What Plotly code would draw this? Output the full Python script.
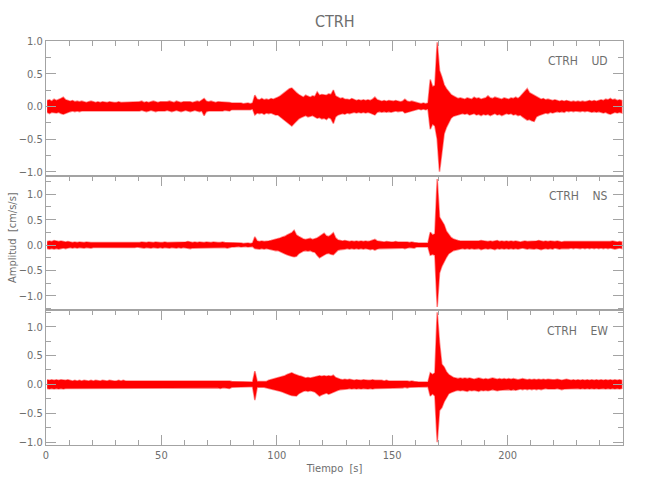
import plotly.graph_objects as go

# ---- data: per-second peak amplitudes (upper / lower envelope) ----
TIME_S = list(range(250))  # start of each 1-s window

UD_UP = [
    0.09,0.10,0.08,0.11,0.09,0.10,0.12,0.14,0.10,0.09,
    0.08,0.09,0.07,0.08,0.07,0.08,0.07,0.06,0.07,0.08,
    0.07,0.06,0.07,0.06,0.07,0.06,0.06,0.07,0.06,0.06,
    0.06,0.07,0.06,0.06,0.07,0.06,0.07,0.06,0.07,0.06,
    0.07,0.08,0.06,0.07,0.06,0.07,0.08,0.07,0.06,0.07,
    0.07,0.06,0.07,0.08,0.07,0.06,0.08,0.07,0.06,0.07,
    0.07,0.08,0.07,0.06,0.07,0.08,0.07,0.09,0.12,0.08,
    0.07,0.08,0.07,0.06,0.07,0.07,0.06,0.07,0.06,0.06,
    0.05,0.05,0.06,0.05,0.05,0.04,0.05,0.05,0.04,0.05,
    0.17,0.11,0.10,0.12,0.10,0.11,0.10,0.12,0.11,0.12,
    0.14,0.16,0.19,0.22,0.25,0.27,0.28,0.24,0.21,0.18,
    0.16,0.14,0.17,0.15,0.14,0.16,0.15,0.22,0.17,0.18,
    0.18,0.17,0.19,0.18,0.25,0.16,0.14,0.12,0.13,0.11,
    0.11,0.10,0.12,0.10,0.09,0.10,0.09,0.10,0.09,0.10,
    0.09,0.11,0.14,0.10,0.09,0.08,0.09,0.08,0.09,0.08,
    0.08,0.09,0.08,0.07,0.08,0.11,0.08,0.07,0.08,0.07,
    0.05,0.05,0.04,0.05,0.04,0.05,0.41,0.30,0.32,0.98,
    0.55,0.45,0.33,0.27,0.22,0.18,0.16,0.14,0.12,0.13,
    0.12,0.11,0.13,0.12,0.11,0.14,0.12,0.13,0.11,0.12,
    0.13,0.16,0.13,0.12,0.14,0.13,0.12,0.11,0.13,0.12,
    0.11,0.13,0.12,0.14,0.12,0.15,0.19,0.23,0.27,0.21,
    0.19,0.16,0.14,0.13,0.11,0.12,0.10,0.11,0.10,0.09,
    0.10,0.09,0.08,0.09,0.08,0.09,0.08,0.07,0.08,0.07,
    0.08,0.07,0.08,0.07,0.08,0.09,0.08,0.09,0.08,0.09,
    0.10,0.09,0.11,0.10,0.12,0.10,0.11,0.09,0.10,0.09,
]
UD_LO = [
    -0.09,-0.11,-0.09,-0.10,-0.10,-0.09,-0.11,-0.12,-0.10,-0.09,
    -0.08,-0.07,-0.08,-0.07,-0.08,-0.07,-0.06,-0.07,-0.06,-0.07,
    -0.06,-0.07,-0.06,-0.06,-0.07,-0.06,-0.07,-0.06,-0.06,-0.07,
    -0.06,-0.06,-0.07,-0.06,-0.06,-0.07,-0.06,-0.07,-0.06,-0.07,
    -0.07,-0.06,-0.07,-0.08,-0.07,-0.06,-0.07,-0.08,-0.07,-0.06,
    -0.07,-0.07,-0.06,-0.07,-0.08,-0.07,-0.06,-0.07,-0.08,-0.07,
    -0.06,-0.07,-0.08,-0.07,-0.06,-0.07,-0.08,-0.07,-0.14,-0.08,
    -0.07,-0.06,-0.07,-0.07,-0.06,-0.07,-0.07,-0.06,-0.06,-0.07,
    -0.05,-0.05,-0.04,-0.05,-0.05,-0.05,-0.04,-0.05,-0.05,-0.04,
    -0.13,-0.10,-0.11,-0.10,-0.12,-0.10,-0.11,-0.10,-0.12,-0.13,
    -0.13,-0.16,-0.18,-0.21,-0.25,-0.27,-0.30,-0.26,-0.22,-0.19,
    -0.17,-0.15,-0.14,-0.16,-0.15,-0.14,-0.16,-0.18,-0.17,-0.19,
    -0.18,-0.20,-0.17,-0.19,-0.26,-0.16,-0.13,-0.12,-0.11,-0.12,
    -0.10,-0.11,-0.10,-0.09,-0.10,-0.09,-0.10,-0.09,-0.10,-0.09,
    -0.10,-0.11,-0.13,-0.09,-0.08,-0.09,-0.08,-0.09,-0.08,-0.09,
    -0.08,-0.07,-0.08,-0.08,-0.07,-0.10,-0.08,-0.07,-0.07,-0.06,
    -0.05,-0.04,-0.05,-0.04,-0.05,-0.04,-0.35,-0.27,-0.30,-0.50,
    -1.00,-0.70,-0.42,-0.32,-0.24,-0.18,-0.15,-0.14,-0.13,-0.12,
    -0.11,-0.12,-0.11,-0.13,-0.12,-0.11,-0.13,-0.12,-0.14,-0.12,
    -0.13,-0.12,-0.14,-0.12,-0.11,-0.13,-0.12,-0.14,-0.12,-0.11,
    -0.12,-0.11,-0.13,-0.12,-0.14,-0.13,-0.16,-0.19,-0.21,-0.20,
    -0.22,-0.23,-0.16,-0.14,-0.12,-0.11,-0.10,-0.11,-0.09,-0.10,
    -0.09,-0.08,-0.09,-0.08,-0.09,-0.07,-0.08,-0.07,-0.08,-0.07,
    -0.07,-0.08,-0.07,-0.08,-0.07,-0.08,-0.09,-0.08,-0.09,-0.08,
    -0.09,-0.10,-0.09,-0.11,-0.12,-0.10,-0.09,-0.10,-0.09,-0.10,
]
NS_UP = [
    0.07,0.08,0.07,0.09,0.08,0.07,0.08,0.07,0.06,0.07,
    0.06,0.05,0.06,0.05,0.06,0.05,0.05,0.06,0.05,0.05,
    0.05,0.05,0.04,0.05,0.05,0.04,0.05,0.05,0.04,0.05,
    0.05,0.04,0.05,0.05,0.04,0.05,0.05,0.04,0.05,0.05,
    0.05,0.06,0.05,0.05,0.06,0.05,0.05,0.06,0.05,0.05,
    0.05,0.06,0.05,0.05,0.06,0.05,0.06,0.05,0.05,0.06,
    0.06,0.07,0.06,0.05,0.06,0.05,0.06,0.05,0.05,0.06,
    0.05,0.05,0.06,0.05,0.05,0.05,0.06,0.05,0.05,0.05,
    0.04,0.04,0.04,0.04,0.04,0.03,0.04,0.04,0.03,0.04,
    0.16,0.08,0.07,0.08,0.07,0.07,0.08,0.09,0.10,0.11,
    0.12,0.14,0.16,0.17,0.20,0.22,0.24,0.29,0.20,0.17,
    0.14,0.12,0.11,0.12,0.13,0.11,0.12,0.14,0.17,0.20,
    0.23,0.18,0.17,0.20,0.24,0.14,0.10,0.09,0.08,0.09,
    0.08,0.07,0.08,0.07,0.08,0.07,0.08,0.07,0.08,0.07,
    0.08,0.09,0.11,0.08,0.07,0.07,0.06,0.07,0.06,0.06,
    0.06,0.07,0.06,0.06,0.07,0.06,0.06,0.05,0.06,0.05,
    0.04,0.04,0.04,0.04,0.04,0.04,0.25,0.20,0.22,1.30,
    0.55,0.47,0.40,0.27,0.20,0.15,0.12,0.10,0.09,0.08,
    0.08,0.07,0.08,0.07,0.08,0.07,0.07,0.08,0.09,0.08,
    0.08,0.07,0.08,0.07,0.08,0.09,0.07,0.08,0.07,0.08,
    0.07,0.08,0.07,0.08,0.07,0.06,0.07,0.08,0.07,0.07,
    0.08,0.07,0.08,0.09,0.08,0.07,0.08,0.07,0.08,0.07,
    0.07,0.08,0.07,0.06,0.07,0.07,0.06,0.07,0.06,0.07,
    0.07,0.06,0.07,0.06,0.07,0.06,0.07,0.06,0.07,0.06,
    0.07,0.06,0.07,0.06,0.07,0.08,0.07,0.06,0.07,0.06,
]
NS_LO = [
    -0.07,-0.08,-0.07,-0.08,-0.07,-0.08,-0.07,-0.06,-0.07,-0.06,
    -0.05,-0.06,-0.05,-0.06,-0.05,-0.05,-0.06,-0.05,-0.05,-0.06,
    -0.05,-0.04,-0.05,-0.05,-0.04,-0.05,-0.05,-0.04,-0.05,-0.05,
    -0.04,-0.05,-0.05,-0.04,-0.05,-0.05,-0.04,-0.05,-0.05,-0.04,
    -0.05,-0.05,-0.06,-0.05,-0.05,-0.06,-0.05,-0.05,-0.06,-0.05,
    -0.06,-0.05,-0.05,-0.06,-0.05,-0.05,-0.06,-0.05,-0.06,-0.05,
    -0.05,-0.06,-0.07,-0.06,-0.05,-0.06,-0.05,-0.06,-0.05,-0.05,
    -0.05,-0.06,-0.05,-0.05,-0.06,-0.05,-0.05,-0.05,-0.06,-0.05,
    -0.04,-0.04,-0.04,-0.03,-0.04,-0.04,-0.03,-0.04,-0.04,-0.03,
    -0.07,-0.07,-0.08,-0.07,-0.08,-0.07,-0.08,-0.09,-0.10,-0.11,
    -0.11,-0.13,-0.15,-0.17,-0.19,-0.21,-0.22,-0.23,-0.22,-0.17,
    -0.14,-0.12,-0.11,-0.12,-0.11,-0.13,-0.14,-0.20,-0.25,-0.22,
    -0.20,-0.17,-0.16,-0.18,-0.19,-0.14,-0.10,-0.09,-0.08,-0.08,
    -0.07,-0.08,-0.07,-0.08,-0.07,-0.08,-0.07,-0.08,-0.07,-0.08,
    -0.09,-0.08,-0.10,-0.08,-0.07,-0.06,-0.07,-0.06,-0.07,-0.06,
    -0.06,-0.06,-0.07,-0.06,-0.06,-0.07,-0.06,-0.05,-0.05,-0.06,
    -0.04,-0.04,-0.04,-0.04,-0.04,-0.04,-0.20,-0.18,-0.20,-1.22,
    -0.55,-0.42,-0.32,-0.24,-0.17,-0.14,-0.11,-0.10,-0.09,-0.08,
    -0.07,-0.08,-0.07,-0.08,-0.07,-0.08,-0.08,-0.07,-0.09,-0.08,
    -0.07,-0.08,-0.07,-0.08,-0.09,-0.07,-0.08,-0.07,-0.08,-0.07,
    -0.08,-0.07,-0.08,-0.07,-0.08,-0.07,-0.06,-0.07,-0.08,-0.07,
    -0.07,-0.08,-0.07,-0.08,-0.09,-0.08,-0.07,-0.08,-0.07,-0.08,
    -0.06,-0.07,-0.08,-0.07,-0.06,-0.07,-0.07,-0.06,-0.07,-0.06,
    -0.06,-0.07,-0.06,-0.07,-0.06,-0.07,-0.06,-0.07,-0.06,-0.07,
    -0.06,-0.07,-0.06,-0.07,-0.06,-0.07,-0.08,-0.07,-0.06,-0.07,
]
EW_UP = [
    0.08,0.07,0.08,0.07,0.08,0.07,0.08,0.07,0.07,0.08,
    0.07,0.06,0.07,0.06,0.07,0.06,0.07,0.06,0.06,0.07,
    0.06,0.07,0.06,0.06,0.07,0.06,0.06,0.07,0.06,0.06,
    0.06,0.07,0.06,0.07,0.06,0.06,0.07,0.06,0.07,0.06,
    0.07,0.06,0.07,0.06,0.07,0.06,0.06,0.07,0.06,0.07,
    0.07,0.06,0.07,0.06,0.06,0.07,0.06,0.07,0.06,0.06,
    0.06,0.07,0.06,0.06,0.07,0.06,0.06,0.07,0.06,0.06,
    0.06,0.07,0.06,0.06,0.07,0.06,0.06,0.06,0.07,0.06,
    0.05,0.05,0.04,0.05,0.04,0.04,0.04,0.04,0.04,0.04,
    0.23,0.05,0.05,0.05,0.05,0.05,0.07,0.08,0.09,0.10,
    0.11,0.12,0.14,0.15,0.17,0.18,0.20,0.18,0.16,0.15,
    0.14,0.12,0.11,0.12,0.11,0.12,0.13,0.14,0.15,0.14,
    0.15,0.14,0.15,0.14,0.16,0.12,0.10,0.09,0.08,0.09,
    0.08,0.09,0.08,0.07,0.08,0.07,0.07,0.08,0.07,0.07,
    0.07,0.08,0.07,0.07,0.08,0.07,0.06,0.07,0.06,0.06,
    0.06,0.07,0.06,0.06,0.07,0.06,0.06,0.05,0.06,0.05,
    0.04,0.04,0.04,0.04,0.04,0.04,0.20,0.17,0.20,1.25,
    0.72,0.35,0.30,0.22,0.17,0.14,0.12,0.11,0.10,0.11,
    0.10,0.11,0.10,0.11,0.10,0.09,0.10,0.11,0.10,0.09,
    0.10,0.09,0.10,0.11,0.10,0.09,0.10,0.09,0.10,0.09,
    0.10,0.09,0.10,0.09,0.08,0.09,0.10,0.09,0.08,0.09,
    0.08,0.09,0.08,0.09,0.08,0.09,0.08,0.09,0.08,0.08,
    0.08,0.09,0.08,0.07,0.08,0.09,0.08,0.07,0.08,0.07,
    0.08,0.07,0.08,0.07,0.08,0.07,0.08,0.07,0.08,0.07,
    0.08,0.07,0.08,0.07,0.08,0.07,0.08,0.07,0.08,0.07,
]
EW_LO = [
    -0.07,-0.08,-0.07,-0.08,-0.07,-0.08,-0.07,-0.08,-0.07,-0.07,
    -0.06,-0.07,-0.06,-0.07,-0.06,-0.07,-0.06,-0.07,-0.06,-0.06,
    -0.07,-0.06,-0.06,-0.07,-0.06,-0.06,-0.07,-0.06,-0.07,-0.06,
    -0.06,-0.06,-0.07,-0.06,-0.06,-0.07,-0.06,-0.06,-0.07,-0.06,
    -0.06,-0.07,-0.06,-0.07,-0.06,-0.07,-0.07,-0.06,-0.07,-0.06,
    -0.06,-0.07,-0.06,-0.07,-0.07,-0.06,-0.07,-0.06,-0.07,-0.07,
    -0.07,-0.06,-0.07,-0.06,-0.06,-0.07,-0.06,-0.07,-0.06,-0.07,
    -0.06,-0.06,-0.07,-0.06,-0.06,-0.07,-0.06,-0.06,-0.06,-0.07,
    -0.05,-0.05,-0.04,-0.04,-0.05,-0.04,-0.04,-0.04,-0.04,-0.04,
    -0.27,-0.05,-0.05,-0.05,-0.05,-0.05,-0.07,-0.08,-0.09,-0.10,
    -0.11,-0.12,-0.13,-0.15,-0.16,-0.18,-0.19,-0.20,-0.20,-0.16,
    -0.14,-0.12,-0.11,-0.12,-0.11,-0.12,-0.13,-0.17,-0.20,-0.18,
    -0.16,-0.15,-0.17,-0.16,-0.14,-0.12,-0.10,-0.09,-0.08,-0.08,
    -0.08,-0.07,-0.08,-0.07,-0.08,-0.07,-0.08,-0.07,-0.07,-0.08,
    -0.07,-0.08,-0.07,-0.07,-0.06,-0.07,-0.06,-0.07,-0.06,-0.06,
    -0.06,-0.06,-0.07,-0.06,-0.06,-0.05,-0.06,-0.05,-0.05,-0.05,
    -0.04,-0.04,-0.04,-0.04,-0.04,-0.04,-0.20,-0.16,-0.20,-1.00,
    -0.45,-0.40,-0.30,-0.22,-0.16,-0.14,-0.12,-0.11,-0.10,-0.11,
    -0.10,-0.11,-0.12,-0.10,-0.11,-0.10,-0.11,-0.12,-0.10,-0.11,
    -0.10,-0.11,-0.10,-0.09,-0.10,-0.11,-0.10,-0.09,-0.10,-0.09,
    -0.09,-0.10,-0.09,-0.10,-0.09,-0.08,-0.09,-0.08,-0.09,-0.08,
    -0.09,-0.08,-0.09,-0.08,-0.09,-0.08,-0.07,-0.08,-0.09,-0.08,
    -0.08,-0.07,-0.08,-0.09,-0.08,-0.07,-0.08,-0.07,-0.08,-0.07,
    -0.07,-0.08,-0.07,-0.08,-0.07,-0.08,-0.07,-0.08,-0.07,-0.08,
    -0.08,-0.07,-0.08,-0.07,-0.08,-0.07,-0.08,-0.07,-0.08,-0.07,
]

STATION = "CTRH"
COMPONENTS = ["UD", "NS", "EW"]
Y_RANGES = [[-1.065, 1.0], [-1.28, 1.36], [-1.05, 1.29]]
X_TICKS = [0, 50, 100, 150, 200]
Y_TICKS = [-1.0, -0.5, 0.0, 0.5, 1.0]
Y_TICKTEXT = ["\u22121.0", "\u22120.5", "0.0", "0.5", "1.0"]

SERIES = [(UD_UP, UD_LO), (NS_UP, NS_LO), (EW_UP, EW_LO)]

AX = "#a3a3a3"
TXT = "#6e6e6e"
FONT = "DejaVu Sans Condensed, Liberation Sans Narrow, Roboto, sans-serif"

fig = go.Figure()

domains = [[0.6658, 1.0], [0.3342, 0.6658], [0.0, 0.3342]]

for k, (up, lo) in enumerate(SERIES):
    idx = "" if k == 0 else str(k + 1)
    xc = [t + 0.5 for t in TIME_S]
    fig.add_trace(go.Scatter(
        x=xc + xc[::-1], y=list(up) + list(lo)[::-1],
        mode="lines", fill="toself", fillcolor="#ff0000",
        line=dict(color="rgba(255,0,0,0.45)", width=1.6),
        xaxis="x" + idx, yaxis="y" + idx, showlegend=False, hoverinfo="skip",
    ))

layout = dict(
    width=650, height=500,
    paper_bgcolor="white", plot_bgcolor="white",
    margin=dict(l=46, r=27, t=41, b=55, autoexpand=False),
    showlegend=False,
    font=dict(family=FONT, color=TXT, size=11),
)

for k in range(3):
    idx = "" if k == 0 else str(k + 1)
    last = (k == 2)
    xa = dict(
        domain=[0, 1], range=[0, 250], anchor="y" + idx,
        tickvals=X_TICKS, ticktext=[str(v) for v in X_TICKS],
        ticks="inside", ticklen=10, tickwidth=1, tickcolor=AX,
        showline=True, linecolor=AX, linewidth=1,
        showgrid=False, zeroline=False, automargin=False,
        minor=dict(dtick=10, tick0=0, ticks="inside", ticklen=5, tickcolor=AX, showgrid=False),
        tickfont=dict(size=11, color=TXT, family=FONT),
    )
    if last:
        xa.update(side="bottom", mirror="ticks", showticklabels=True,
                  title=dict(text="Tiempo\u00a0\u00a0[s]",
                             font=dict(size=11, color=TXT, family=FONT), standoff=3))
    else:
        xa.update(side="top", mirror=True, showticklabels=False)
    ya = dict(
        domain=domains[k], range=Y_RANGES[k], anchor="x" + idx,
        tickvals=Y_TICKS, ticktext=Y_TICKTEXT,
        ticks="inside", ticklen=10, tickwidth=1, tickcolor=AX,
        showline=True, linecolor=AX, linewidth=1, mirror="ticks",
        showgrid=False, zeroline=False, automargin=False,
        minor=dict(dtick=0.25, tick0=0, ticks="inside", ticklen=5, tickcolor=AX, showgrid=False),
        tickfont=dict(size=11, color=TXT, family=FONT),
    )
    layout["xaxis" + idx] = xa
    layout["yaxis" + idx] = ya

annotations = [
    dict(text=STATION, xref="paper", yref="paper", x=0.5, xanchor="center",
         y=1 + (41 - 22) / 404, yanchor="middle", showarrow=False,
         font=dict(size=16, color=TXT, family=FONT)),
    dict(text="Amplitud\u00a0\u00a0[cm/s/s]", textangle=-90, xref="paper", yref="paper",
         x=0, xanchor="center", xshift=-34, y=1 - (238 - 41) / 404, yanchor="middle",
         showarrow=False, font=dict(size=11, color=TXT, family=FONT)),
]
label_y = [61, 196, 331]
for k, comp in enumerate(COMPONENTS):
    annotations.append(dict(
        text=STATION + "\u00a0\u00a0\u00a0\u00a0" + comp,
        xref="paper", yref="paper",
        x=1.0, xshift=-13, xanchor="right",
        y=1 - (label_y[k] - 41) / 404, yanchor="middle",
        showarrow=False, font=dict(size=12, color=TXT, family=FONT),
    ))
layout["annotations"] = annotations

fig.update_layout(**layout)
fig.write_html(
    "out.html",
    config={"displayModeBar": False},
    post_script="document.body.style.margin='0';document.body.style.overflow='hidden';",
)
